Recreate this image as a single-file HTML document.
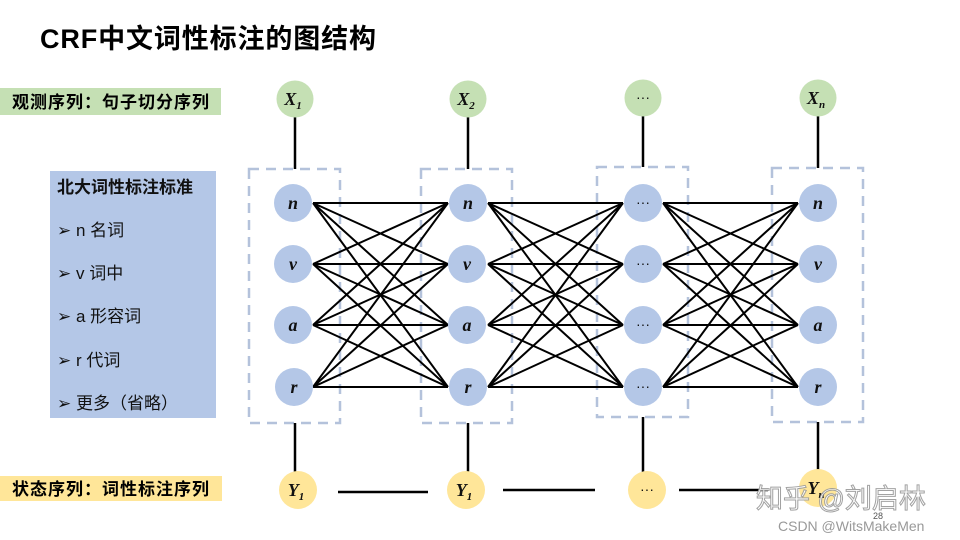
<!DOCTYPE html>
<html><head><meta charset="utf-8"><style>
body{margin:0;width:960px;height:540px;background:#fff;overflow:hidden;font-family:"Liberation Sans","Noto Sans CJK SC",sans-serif;}
</style></head><body>
<svg width="960" height="540" xmlns="http://www.w3.org/2000/svg" style="position:absolute;left:0;top:0">
<text x="40" y="48" font-size="27" font-weight="bold" font-family="Liberation Sans, Noto Sans CJK SC, sans-serif" fill="#000" textLength="336">CRF中文词性标注的图结构</text>
<rect x="0" y="88" width="221" height="27" fill="#c5e0b4"/>
<text x="12" y="108" font-size="17" font-weight="bold" font-family="Liberation Sans, Noto Sans CJK SC, sans-serif" textLength="197">观测序列：句子切分序列</text>
<rect x="0" y="476" width="222" height="25" fill="#ffe699"/>
<text x="12" y="495" font-size="17" font-weight="bold" font-family="Liberation Sans, Noto Sans CJK SC, sans-serif" textLength="197">状态序列：词性标注序列</text>
<rect x="50" y="171" width="166" height="247" fill="#b4c7e7"/>
<g font-family="Liberation Sans, Noto Sans CJK SC, sans-serif" font-size="17" fill="#111">
<text x="57" y="193" font-weight="bold">北大词性标注标准</text>
<text x="57" y="236">➢ n 名词</text>
<text x="57" y="279">➢ v 词中</text>
<text x="57" y="322">➢ a 形容词</text>
<text x="57" y="366">➢ r 代词</text>
<text x="57" y="409">➢  更多（省略）</text>
</g>
<g fill="none" stroke="#b4c2db" stroke-width="2.5" stroke-dasharray="10,7">
<rect x="249" y="169" width="91" height="254"/>
<rect x="421" y="169" width="91" height="254"/>
<rect x="597" y="167" width="91" height="250"/>
<rect x="772" y="168" width="91" height="254"/>
</g>
<g stroke="#000" stroke-width="2.5">
<line x1="295" y1="116" x2="295" y2="169"/><line x1="468" y1="116" x2="468" y2="169"/>
<line x1="643" y1="116" x2="643" y2="167"/><line x1="818" y1="116" x2="818" y2="168"/>
<line x1="295" y1="423" x2="295" y2="472"/><line x1="468" y1="423" x2="468" y2="472"/>
<line x1="643" y1="417" x2="643" y2="472"/><line x1="818" y1="422" x2="818" y2="472"/>
<line x1="338" y1="492" x2="428" y2="492"/><line x1="503" y1="490" x2="595" y2="490"/><line x1="679" y1="490" x2="768" y2="490"/>
</g>
<g stroke="#000" stroke-width="2" fill="none">
<path d="M313 203L448 203M313 203L448 264M313 203L448 325M313 203L448 387M313 264L448 203M313 264L448 264M313 264L448 325M313 264L448 387M313 325L448 203M313 325L448 264M313 325L448 325M313 325L448 387M313 387L448 203M313 387L448 264M313 387L448 325M313 387L448 387"/>
<path d="M488 203L623 203M488 203L623 264M488 203L623 325M488 203L623 387M488 264L623 203M488 264L623 264M488 264L623 325M488 264L623 387M488 325L623 203M488 325L623 264M488 325L623 325M488 325L623 387M488 387L623 203M488 387L623 264M488 387L623 325M488 387L623 387"/>
<path d="M663 203L798 203M663 203L798 264M663 203L798 325M663 203L798 387M663 264L798 203M663 264L798 264M663 264L798 325M663 264L798 387M663 325L798 203M663 325L798 264M663 325L798 325M663 325L798 387M663 387L798 203M663 387L798 264M663 387L798 325M663 387L798 387"/>
</g>
<g fill="#c5e0b4"><circle cx="295" cy="99" r="18.5"/><circle cx="468" cy="99" r="18.5"/><circle cx="643" cy="98" r="18.5"/><circle cx="818" cy="98" r="18.5"/></g>
<g fill="#b4c7e7">
<circle cx="293" cy="203" r="19"/><circle cx="293" cy="264" r="19"/><circle cx="293" cy="325" r="19"/><circle cx="294" cy="387" r="19"/>
<circle cx="468" cy="203" r="19"/><circle cx="467" cy="264" r="19"/><circle cx="467" cy="325" r="19"/><circle cx="468" cy="387" r="19"/>
<circle cx="643" cy="203" r="19"/><circle cx="643" cy="264" r="19"/><circle cx="643" cy="325" r="19"/><circle cx="643" cy="387" r="19"/>
<circle cx="818" cy="203" r="19"/><circle cx="818" cy="264" r="19"/><circle cx="818" cy="325" r="19"/><circle cx="818" cy="387" r="19"/>
</g>
<g fill="#ffe699"><circle cx="298" cy="490" r="19"/><circle cx="466" cy="490" r="19"/><circle cx="647" cy="490" r="19"/><circle cx="818" cy="488" r="19"/></g>
<g font-family="Liberation Serif, serif" font-weight="bold" font-style="italic" fill="#111" text-anchor="middle">
<g font-size="18">
<text x="293" y="209">n</text><text x="293" y="270">v</text><text x="293" y="331">a</text><text x="294" y="393">r</text>
<text x="468" y="209">n</text><text x="467" y="270">v</text><text x="467" y="331">a</text><text x="468" y="393">r</text>
<text x="818" y="209">n</text><text x="818" y="270">v</text><text x="818" y="331">a</text><text x="818" y="393">r</text>
</g>
<g font-size="18"><text x="293" y="105">X<tspan font-size="11" dy="4">1</tspan></text><text x="466" y="105">X<tspan font-size="11" dy="4">2</tspan></text><text x="816" y="104">X<tspan font-size="11" dy="4">n</tspan></text>
<text x="296" y="496">Y<tspan font-size="11" dy="4">1</tspan></text><text x="464" y="496">Y<tspan font-size="11" dy="4">1</tspan></text><text x="816" y="494">Y<tspan font-size="11" dy="4">n</tspan></text></g>
</g>
<g font-family="Liberation Sans, sans-serif" font-size="14" fill="#111" text-anchor="middle">
<text x="643" y="102">···</text><text x="643" y="207">···</text><text x="643" y="268">···</text><text x="643" y="329">···</text><text x="643" y="391">···</text><text x="647" y="494">···</text>
</g>
<text x="756" y="508" font-size="27" fill="#fff" stroke="#999" stroke-width="1" font-family="Liberation Sans, Noto Sans CJK SC, sans-serif" opacity="0.9">知乎 @刘启林</text>
<text x="873" y="519" font-size="9" fill="#555" font-family="Liberation Sans, sans-serif">28</text>
<text x="778" y="531" font-size="14" fill="#999" font-family="Liberation Sans, sans-serif">CSDN @WitsMakeMen</text>
</svg>
</body></html>
